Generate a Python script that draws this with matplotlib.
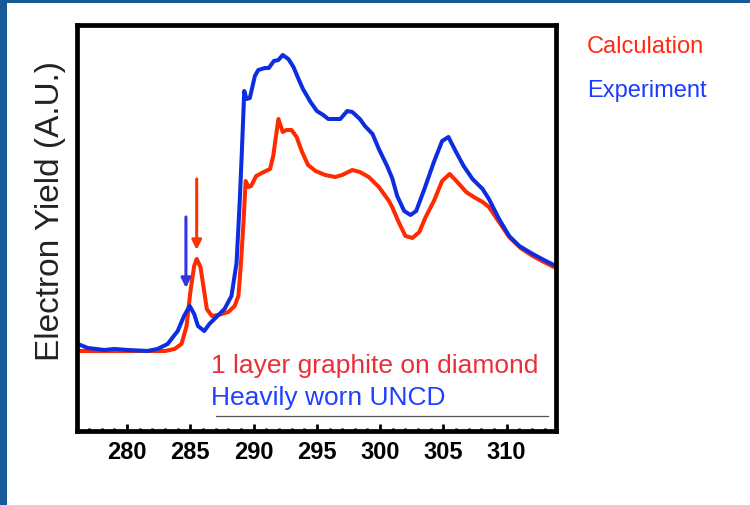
import matplotlib
matplotlib.use('Agg')
import matplotlib.pyplot as plt
from matplotlib.patches import Rectangle
from matplotlib.ticker import MultipleLocator

plt.rcParams['font.family'] = ['Liberation Sans', 'DejaVu Sans']

# C K-edge NEXAFS: photon energy (eV) vs electron yield (arbitrary units)
calc_e = [276.1, 278.0, 280.0, 282.0, 283.0, 283.75, 284.3, 284.7, 285.0, 285.3,
          285.5, 285.8, 286.1, 286.3, 286.7, 287.2, 288.0, 288.5, 288.8, 289.0,
          289.2, 289.37, 289.6, 289.8, 290.2, 290.8, 291.3, 291.55, 291.96, 292.3,
          292.6, 293.0, 293.4, 293.8, 294.3, 294.9, 295.65, 296.45, 297.0, 297.8,
          298.4, 299.1, 299.9, 300.7, 300.95, 301.5, 302.0, 302.55, 303.1, 303.6,
          304.25, 304.9, 305.5, 306.1, 306.8, 307.4, 308.1, 308.6, 309.4, 310.2,
          311.1, 312.06, 313.1, 313.9]
calc_y = [82, 82, 82, 82, 82, 84, 89, 107, 141, 167,
          174, 166, 141, 124, 117, 118, 121, 127, 137, 170,
          211, 252, 246, 247, 257, 261, 264, 277, 314, 301,
          303, 303, 296, 282, 268, 262, 258, 256, 258, 263,
          261, 256, 246, 232, 226, 210, 197, 195, 201, 216,
          232, 252, 259, 251, 241, 236, 231, 226, 211, 196,
          185, 177, 170, 165]

exp_e = [276.1, 276.9, 278.2, 279.0, 280.05, 281.6, 282.4, 283.2, 284.0, 284.5,
         284.95, 285.3, 285.6, 286.1, 286.5, 286.9, 287.7, 288.25, 288.65, 288.9,
         289.05, 289.26, 289.44, 289.7, 290.1, 290.37, 290.9, 291.2, 291.6, 291.96,
         292.3, 292.75, 293.15, 293.55, 293.9, 294.5, 295.0, 295.5, 295.9, 296.85,
         297.4, 297.8, 298.4, 298.8, 299.4, 299.9, 300.55, 300.95, 301.35, 301.9,
         302.4, 302.85, 303.5, 304.25, 304.9, 305.4, 305.96, 306.6, 307.3, 308.1,
         308.6, 309.4, 310.2, 311.0, 312.06, 313.1, 313.9]
exp_y = [89, 85, 83, 84, 83, 82, 84, 89, 102, 117,
         127, 119, 107, 102, 109, 114, 124, 137, 170, 231,
         275, 342, 334, 335, 357, 363, 365, 365, 372, 373,
         378, 374, 366, 354, 344, 331, 322, 318, 314, 314,
         322, 321, 314, 307, 299, 284, 267, 255, 237, 222,
         218, 222, 244, 271, 292, 296, 282, 267, 254, 244,
         234, 214, 197, 187, 179, 172, 167]

# arrows marking the pi* pre-edge peaks: (energy, tail, head)
exp_arrow = (284.65, 216, 145)
calc_arrow = (285.5, 254, 183)

RED = '#ff2a00'
BLUE = '#0c2ee0'

fig = plt.figure(figsize=(7.5, 5.06), dpi=100, facecolor='#175a9a')
# white slide area with a thin blue frame on the top and left
fig.patches.append(Rectangle((7 / 750, 0), 1, 1 - 4 / 506, transform=fig.transFigure,
                             facecolor='white', edgecolor='none', zorder=-10))

ax = fig.add_axes([0.102, 0.1453, 0.6393, 0.8033])
ax.plot(calc_e, calc_y, color=RED, lw=2.9, solid_joinstyle='round')
ax.plot(exp_e, exp_y, color=BLUE, lw=2.9, solid_joinstyle='round')

for (e, y0, y1), col in ((exp_arrow, '#3535e0'), (calc_arrow, '#ff3300')):
    ax.annotate('', xy=(e, y1), xytext=(e, y0),
                arrowprops=dict(arrowstyle='-|>', color=col, lw=2.2,
                                mutation_scale=14, shrinkA=0, shrinkB=0))

ax.plot([287.05, 313.25], [17, 17], color='#555555', lw=0.9)

ax.text(286.65, 61, '1 layer graphite on diamond', color='#e8303a', fontsize=19,
        va='baseline', ha='left')
ax.text(286.65, 29, 'Heavily worn UNCD', color='#2040ff', fontsize=19,
        va='baseline', ha='left')

ax.set_xlim(276.0, 313.9)
ax.set_ylim(1.5, 408)
ax.xaxis.set_major_locator(MultipleLocator(5))
ax.xaxis.set_minor_locator(MultipleLocator(1))
ax.tick_params(axis='x', which='major', direction='in', length=5, width=2,
               labelsize=17, pad=6)
ax.tick_params(axis='x', which='minor', direction='in', length=2.5, width=2)
ax.set_yticks([])
for lbl in ax.get_xticklabels():
    lbl.set_fontweight('bold')
for s in ax.spines.values():
    s.set_linewidth(3.4)

fig.text(50 / 750, 1 - 211 / 506, 'Electron Yield (A.U.)', rotation=90,
         fontsize=24, color='#222222', ha='center', va='center')

fig.text(587 / 750, 1 - 53.5 / 506, 'Calculation', color='#ff2a10', fontsize=17,
         ha='left', va='baseline')
fig.text(587 / 750, 1 - 97 / 506, 'Experiment', color='#1a3cff', fontsize=17,
         ha='left', va='baseline')

fig.savefig('out.png', dpi=100, facecolor=fig.get_facecolor())
